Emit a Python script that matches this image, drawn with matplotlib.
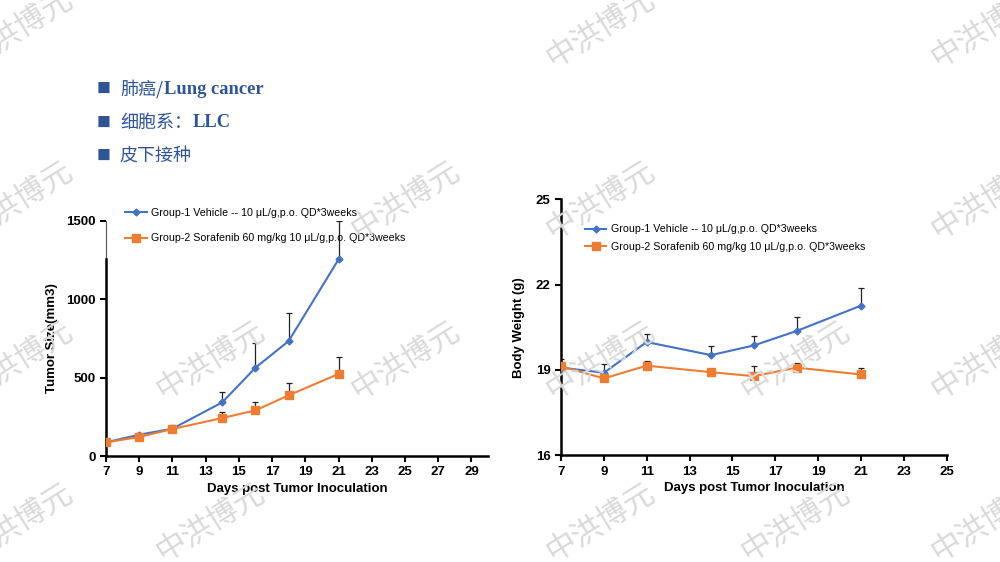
import numpy as np
import matplotlib.pyplot as plt

# data
days = [7, 9, 11, 14, 16, 18, 21]
tumor_g1 = [87, 136, 174, 342, 563, 733, 1253]
tumor_g1_err = [5, 10, 22, 64, 155, 176, 245]
tumor_g2 = [87, 121, 172, 242, 291, 387, 523]
tumor_g2_err = [3, 5, 8, 41, 55, 76, 106]

bw_g1 = [19.08, 18.90, 19.98, 19.52, 19.86, 20.37, 21.26]
bw_g1_err = [0.30, 0.30, 0.30, 0.32, 0.32, 0.48, 0.61]
bw_g2 = [19.13, 18.70, 19.15, 18.92, 18.78, 19.08, 18.84]
bw_g2_err = [0.15, 0.05, 0.16, 0.11, 0.35, 0.17, 0.24]

label_g1 = "Group-1 Vehicle -- 10 μL/g,p.o. QD*3weeks"
label_g2 = "Group-2 Sorafenib 60 mg/kg 10 μL/g,p.o. QD*3weeks"
# header lines as (chinese part, latin part)
header_lines = [("肺癌/", "Lung cancer"), ("细胞系：", "LLC"), ("皮下接种", "")]

BLUE = "#4472C4"
ORANGE = "#ED7D31"
HEAD = "#2F5597"

plt.rcParams['font.family'] = ['Liberation Sans', 'DejaVu Sans']

fig = plt.figure(figsize=(10, 5.62), dpi=100)

# watermarks
wm_rows = {28: [18, 600, 985],
           200: [18, 405, 600, 985],
           360: [18, 210, 405, 600, 795, 985],
           522: [18, 210, 600, 795, 985]}
for yy, xs in wm_rows.items():
    for xx in xs:
        fig.text(xx / 1000, 1 - yy / 562, "中洪博元", family=['Noto Sans CJK SC'],
                 fontsize=22, fontweight='light', color="#d9d9d9", rotation=32,
                 ha='center', va='center', zorder=0)

# header
renderer = fig.canvas.get_renderer()
for i, (cn, lat) in enumerate(header_lines):
    y = 1 - (89 + i * 33.5) / 562
    fig.text(0.097, y, "■", family=['Noto Sans CJK SC'], fontsize=10, color=HEAD, va='center')
    t = fig.text(0.120, y, cn, family=['Noto Sans CJK SC'], fontsize=13, color=HEAD, va='center')
    if lat:
        bb = t.get_window_extent(renderer)
        fig.text(bb.x1 / 1000 + 0.001, y, lat, family=['Liberation Serif'], fontsize=13.3,
                 fontweight='bold', color=HEAD, va='center')


def style(ax):
    for s in ['top', 'right']:
        ax.spines[s].set_visible(False)
    for s in ['left', 'bottom']:
        ax.spines[s].set_linewidth(1.8)
    ax.tick_params(direction='out', length=4.5, width=1.5, labelsize=9.5, pad=3)
    for lab in ax.get_xticklabels() + ax.get_yticklabels():
        lab.set_fontweight('bold')
    ax.patch.set_alpha(0)


def draw(ax, y1, e1, y2, e2):
    ax.errorbar(days, y1, yerr=[np.zeros(len(e1)), e1], fmt='none', ecolor='#222222',
                elinewidth=0.9, capsize=2.5, capthick=0.9, zorder=2)
    ax.errorbar(days, y2, yerr=[np.zeros(len(e2)), e2], fmt='none', ecolor='#222222',
                elinewidth=0.9, capsize=2.5, capthick=0.9, zorder=2)
    ax.plot(days, y1, color=BLUE, lw=1.5, marker='D', ms=3.5, label=label_g1, zorder=3)
    ax.plot(days, y2, color=ORANGE, lw=1.5, marker='s', ms=5.5, label=label_g2, zorder=3)


# left: tumor size
ax1 = fig.add_axes([0.106, 0.1886, 0.382, 0.4187])
draw(ax1, tumor_g1, tumor_g1_err, tumor_g2, tumor_g2_err)
ax1.set_xlim(7, 30)
ax1.set_ylim(0, 1500)
ax1.set_xticks(range(7, 30, 2))
ax1.set_yticks([0, 500, 1000, 1500])
ax1.spines['left'].set_bounds(0, 1255)
ax1.plot([7, 7], [1255, 1500], color='#555555', lw=0.8, clip_on=False, zorder=1)
style(ax1)
ax1.set_xlabel("Days post Tumor Inoculation", fontsize=9.5, fontweight='bold', labelpad=3)
ax1.set_ylabel("Tumor Size(mm3)", fontsize=9.5, fontweight='bold', labelpad=6)
ax1.legend(loc='upper left', bbox_to_anchor=(0.025, 1.095), frameon=False, fontsize=7.7,
           handlelength=2.0, handletextpad=0.4, labelspacing=1.45)

# right: body weight
ax2 = fig.add_axes([0.561, 0.190, 0.3857, 0.4554])
draw(ax2, bw_g1, bw_g1_err, bw_g2, bw_g2_err)
ax2.set_xlim(7, 25)
ax2.set_ylim(16, 25)
ax2.set_xticks(range(7, 26, 2))
ax2.set_yticks([16, 19, 22, 25])
style(ax2)
ax2.set_xlabel("Days post Tumor Inoculation", fontsize=9.5, fontweight='bold', labelpad=3)
ax2.set_ylabel("Body Weight (g)", fontsize=9.5, fontweight='bold', labelpad=8)
ax2.legend(loc='upper left', bbox_to_anchor=(0.037, 0.94), frameon=False, fontsize=7.7,
           handlelength=2.0, handletextpad=0.4, labelspacing=0.7)

fig.savefig("out.png", dpi=100)
